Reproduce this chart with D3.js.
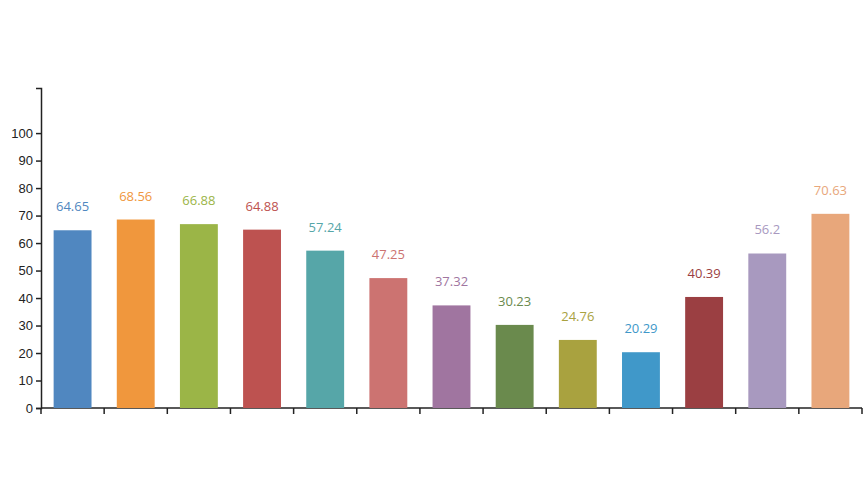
<!DOCTYPE html>
<html>
<head>
<meta charset="utf-8">
<script src="https://cdn.jsdelivr.net/npm/d3@7"></script>
<style>
  body { margin: 0; background: #fff; font-family: "Open Sans", sans-serif; }
  .axis text { font-size: 13px; fill: #222; }
  .axis path, .axis line { stroke: #222; }
  .bar-label { font-size: 13px; text-anchor: middle; }
</style>
</head>
<body>
<svg id="chart"></svg>
<script>
const categories = d3.range(13).map(i => "c" + i);
const values = [64.65, 68.56, 66.88, 64.88, 57.24, 47.25, 37.32, 30.23, 24.76, 20.29, 40.39, 56.2, 70.63];
const labels = ["64.65", "68.56", "66.88", "64.88", "57.24", "47.25", "37.32", "30.23", "24.76", "20.29", "40.39", "56.2", "70.63"];
const colors = ["#5087c0", "#f0973d", "#9bb547", "#bd5250", "#56a6a8", "#cc7371", "#a075a0",
                "#6a8a4d", "#a9a23f", "#4098c9", "#9b3f42", "#a899bf", "#e8a77b"];
const yTicks = [0, 10, 20, 30, 40, 50, 60, 70, 80, 90, 100];

const dim = { width: 866, height: 494 };
const margin = { top: 88, right: 4, bottom: 86, left: 41 };

const svg = d3.select("#chart")
    .attr("width", dim.width)
    .attr("height", dim.height);

const x = d3.scaleBand()
    .domain(categories)
    .range([margin.left, dim.width - margin.right])
    .paddingInner(0.4)
    .paddingOuter(0.2);

const y = d3.scaleLinear()
    .domain([0, 116.4])
    .range([dim.height - margin.bottom, margin.top]);

// y axis
svg.append("g")
    .attr("class", "axis y")
    .attr("transform", `translate(${margin.left}, 0)`)
    .call(d3.axisLeft(y).tickValues(yTicks).tickSize(5).tickPadding(3).tickSizeOuter(5))
    .call(g => g.selectAll("path, line").attr("stroke-width", 1.5));

// x axis with ticks at band boundaries
const xAxis = svg.append("g")
    .attr("class", "axis x")
    .attr("transform", `translate(0, ${y(0)})`);
xAxis.append("line")
    .attr("x1", margin.left).attr("x2", dim.width - margin.right)
    .attr("stroke-width", 1.5);
const step = x.step();
xAxis.selectAll(".tk")
    .data(d3.range(categories.length + 1))
    .join("line")
    .attr("class", "tk")
    .attr("x1", i => margin.left + i * step)
    .attr("x2", i => margin.left + i * step)
    .attr("y1", 0).attr("y2", 6)
    .attr("stroke-width", 1.5);

svg.append("g")
    .selectAll("rect")
    .data(values)
    .join("rect")
    .attr("x", (d, i) => x(categories[i]))
    .attr("width", x.bandwidth())
    .attr("y", d => y(d))
    .attr("height", d => y(0) - y(d))
    .attr("fill", (d, i) => colors[i]);

svg.append("g")
    .selectAll("text")
    .data(values)
    .join("text")
    .attr("class", "bar-label")
    .attr("x", (d, i) => x(categories[i]) + x.bandwidth() / 2)
    .attr("y", d => y(d) - 19)
    .attr("fill", (d, i) => colors[i])
    .text((d, i) => labels[i]);
</script>
</body>
</html>
